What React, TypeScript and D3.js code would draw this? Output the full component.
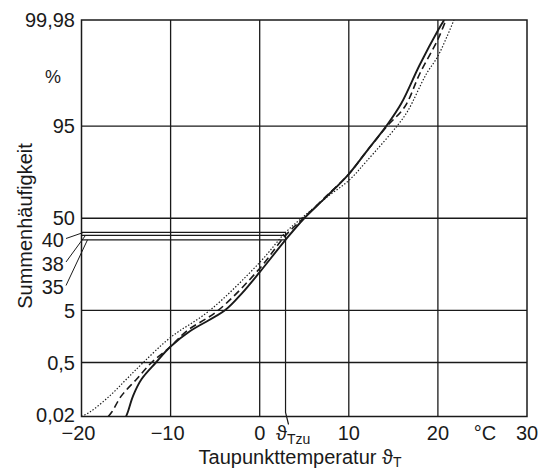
import React from "react";
import * as d3 from "d3";

// temperature ticks (°C)
const xTicks = [-20, -10, 0, 10, 20, 30];
// probability grid lines (%)
const gridPct = [95, 50, 5, 0.5];
const yTickLabels = [
  { p: 99.98, label: "99,98" },
  { p: 95, label: "95" },
  { p: 50, label: "50" },
  { p: 5, label: "5" },
  { p: 0.5, label: "0,5" },
  { p: 0.02, label: "0,02" },
];
// the three marked values at the design dew point
const markPct = [40, 38, 35];
const markLabels = ["40", "38", "35"];
const tZu = 2.9;

// curves: [temperature °C, cumulative %]
const solidCurve = [
  [-15, 0.02], [-14.8, 0.027], [-14.2, 0.077], [-13.25, 0.205], [-11.65, 0.5],
  [-10, 1.1], [-7.8, 2.2], [-3.9, 5], [-2, 9], [0, 16.8], [2.9, 35], [5, 50],
  [7.5, 65], [10, 78.5], [12, 88.4], [14.2, 95], [15.9, 98], [17.95, 99.69],
  [20, 99.96], [20.7, 99.98],
];
const dashedCurve = [
  [-17, 0.02], [-16.6, 0.027], [-15.5, 0.077], [-13.8, 0.205], [-12.13, 0.5],
  [-10, 1.1], [-8.2, 2.2], [-4.66, 5], [0, 18.5], [2.9, 38], [4.9, 50],
  [7.5, 65.5], [10, 78.5], [12, 88.4], [14.3, 95], [16.3, 97.7],
  [17.95, 99.5], [20, 99.93], [20.9, 99.98],
];
const dottedCurve = [
  [-20, 0.02], [-19.05, 0.027], [-16.8, 0.077], [-14.93, 0.205], [-13.07, 0.5],
  [-10, 1.67], [-5.6, 5], [0, 21.5], [2.9, 40], [4.7, 50], [7.5, 64.5],
  [10, 75], [12, 84.6], [15.4, 95], [16.6, 97.2], [18.7, 99.5],
  [20, 99.81], [21.8, 99.98],
];

// inverse normal CDF (Acklam) for the probability-paper axis
function probit(p: number): number {
  const a = [-39.69683028665376, 220.9460984245205, -275.9285104469687, 138.357751867269, -30.66479806614716, 2.506628277459239];
  const b = [-54.47609879822406, 161.5858368580409, -155.6989798598866, 66.80131188771972, -13.28068155288572];
  const c = [-0.007784894002430293, -0.3223964580411365, -2.400758277161838, -2.549732539343734, 4.374664141464968, 2.938163982698783];
  const d = [0.007784695709041462, 0.3224671290700398, 2.445134137142996, 3.754408661907416];
  const pl = 0.02425;
  if (p < pl) {
    const q = Math.sqrt(-2 * Math.log(p));
    return (((((c[0] * q + c[1]) * q + c[2]) * q + c[3]) * q + c[4]) * q + c[5]) / ((((d[0] * q + d[1]) * q + d[2]) * q + d[3]) * q + 1);
  }
  if (p > 1 - pl) {
    const q = Math.sqrt(-2 * Math.log(1 - p));
    return -(((((c[0] * q + c[1]) * q + c[2]) * q + c[3]) * q + c[4]) * q + c[5]) / ((((d[0] * q + d[1]) * q + d[2]) * q + d[3]) * q + 1);
  }
  const q = p - 0.5, r = q * q;
  return ((((((a[0] * r + a[1]) * r + a[2]) * r + a[3]) * r + a[4]) * r + a[5]) * q) / (((((b[0] * r + b[1]) * r + b[2]) * r + b[3]) * r + b[4]) * r + 1);
}

const width = 545;
const height = 471;
const left = 81.5, right = 527, top = 20, bottom = 416.5;
const font = "'Liberation Sans', Arial, sans-serif";
const ink = "#1a1a1a";

export default function App() {
  const x = d3.scaleLinear().domain([-20, 30]).range([left, right]);
  const zScale = d3.scaleLinear().domain([probit(0.0002), probit(0.9998)]).range([bottom, top]);
  const y = (p: number) => zScale(probit(p / 100));

  const line = d3
    .line<number[]>()
    .x((d) => x(d[0]))
    .y((d) => y(d[1]))
    .curve(d3.curveCatmullRom.alpha(0.5));

  const xz = x(tZu);

  return (
    <svg width={width} height={height} style={{ position: "absolute", left: 0, top: 0, background: "#fff" }} fontFamily={font}>
      <defs>
        <clipPath id="plot">
          <rect x={left} y={top} width={right - left} height={bottom - top} />
        </clipPath>
      </defs>

      {/* vertical grid */}
      {xTicks.slice(1, -1).map((t) => (
        <line key={t} x1={x(t)} x2={x(t)} y1={top} y2={bottom} stroke={ink} strokeWidth={1.3} />
      ))}
      {/* horizontal grid */}
      {gridPct.map((p) => (
        <line key={p} x1={left} x2={right} y1={y(p)} y2={y(p)} stroke={ink} strokeWidth={1.3} />
      ))}
      {/* design values */}
      {markPct.map((p) => (
        <line key={p} x1={left} x2={xz} y1={y(p)} y2={y(p)} stroke={ink} strokeWidth={1.2} />
      ))}
      <polyline
        points={`${xz},${y(markPct[0])} ${xz},${bottom - 4} ${xz + 3},${bottom + 8}`}
        fill="none" stroke={ink} strokeWidth={1.2}
      />
      <rect x={left} y={top} width={right - left} height={bottom - top} fill="none" stroke={ink} strokeWidth={1.5} />

      {/* curves */}
      <g clipPath="url(#plot)" fill="none" stroke={ink}>
        <path d={line(solidCurve) || ""} strokeWidth={1.9} />
        <path d={line(dashedCurve) || ""} strokeWidth={1.6} strokeDasharray="7,4" />
        <path d={line(dottedCurve) || ""} strokeWidth={1.2} strokeDasharray="1.4,1.8" />
      </g>

      {/* y labels */}
      {yTickLabels.map((d) => (
        <text key={d.label} x={75} y={y(d.p) - (d.p === 0.02 ? 2 : 0)} dy="0.36em" textAnchor="end" fontSize={20} fill={ink}>
          {d.label}
        </text>
      ))}
      <text x={53} y={77} dy="0.36em" textAnchor="middle" fontSize={18} fill={ink}>%</text>
      {markLabels.map((l, i) => {
        const ly = 240 + i * 23.5;
        return (
          <g key={l}>
            <text x={64} y={ly} dy="0.36em" textAnchor="end" fontSize={20} fill={ink}>{l}</text>
            <line x1={66} y1={ly - 1.5} x2={83.5 + i * 2} y2={y(markPct[i])} stroke={ink} strokeWidth={1} />
          </g>
        );
      })}
      <text transform="translate(32,226) rotate(-90)" textAnchor="middle" fontSize={20} fill={ink}>
        Summenhäufigkeit
      </text>

      {/* x labels */}
      {xTicks.map((t) => (
        <text key={t} x={x(t) + (t < 0 ? -3 : 0)} y={440} textAnchor="middle" fontSize={20} fill={ink}>
          {t < 0 ? `−${Math.abs(t)}` : t}
        </text>
      ))}
      <text x={485} y={440} textAnchor="middle" fontSize={20} fill={ink}>°C</text>
      <text x={276} y={440} fontSize={20} fill={ink}>
        ϑ<tspan fontSize={14} dy={4}>Tzu</tspan>
      </text>
      <text x={300} y={464} textAnchor="middle" fontSize={20} fill={ink}>
        Taupunkttemperatur ϑ<tspan fontSize={14} dy={3}>T</tspan>
      </text>
    </svg>
  );
}
